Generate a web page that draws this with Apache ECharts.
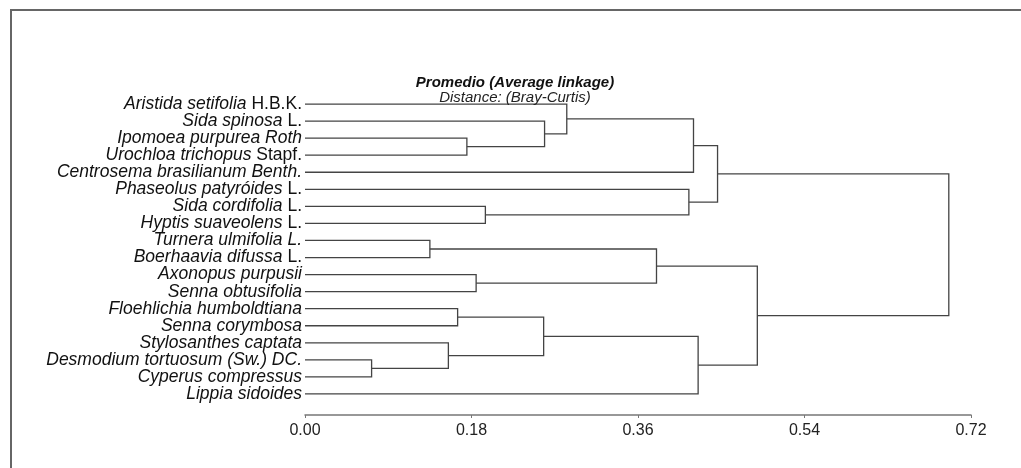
<!DOCTYPE html>
<html>
<head>
<meta charset="utf-8">
<script src="https://cdn.jsdelivr.net/npm/echarts@6/dist/echarts.min.js"></script>
<style>
  html, body { margin: 0; padding: 0; background: #fff; }
  #chart { width: 1021px; height: 468px; }
</style>
</head>
<body>
<div id="chart"></div>
<script>
// species (italic part) and author (upright part)
var leafNames = [
  'Aristida setifolia', 'Sida spinosa', 'Ipomoea purpurea Roth', 'Urochloa trichopus',
  'Centrosema brasilianum Benth.', 'Phaseolus patyróides', 'Sida cordifolia', 'Hyptis suaveolens',
  'Turnera ulmifolia L.', 'Boerhaavia difussa', 'Axonopus purpusii', 'Senna obtusifolia',
  'Floehlichia humboldtiana', 'Senna corymbosa', 'Stylosanthes captata',
  'Desmodium tortuosum (Sw.) DC.', 'Cyperus compressus', 'Lippia sidoides'
];
var leafAuthors = [
  'H.B.K.', 'L.', '', 'Stapf.', '', 'L.', 'L.', 'L.',
  '', 'L.', '', '', '', '', '', '', '', ''
];

// merges: [left node, right node, distance]; leaves are 0..17, clusters 18..
var merges = [
  [2, 3, 0.175],
  [1, 18, 0.259],
  [0, 19, 0.283],
  [20, 4, 0.420],
  [6, 7, 0.195],
  [5, 22, 0.415],
  [21, 23, 0.446],
  [8, 9, 0.135],
  [10, 11, 0.185],
  [25, 26, 0.380],
  [12, 13, 0.165],
  [15, 16, 0.072],
  [14, 29, 0.155],
  [28, 30, 0.258],
  [31, 17, 0.425],
  [27, 32, 0.489],
  [24, 33, 0.696]
];

var xTicks = [0, 0.18, 0.36, 0.54, 0.72];

// node positions: x = height, y = row (mean of children)
var nodeH = [], nodeY = [];
leafNames.forEach(function (n, i) { nodeH[i] = 0; nodeY[i] = i; });
var links = [];
merges.forEach(function (m, k) {
  var id = leafNames.length + k;
  var a = m[0], b = m[1], h = m[2];
  nodeH[id] = h;
  nodeY[id] = (nodeY[a] + nodeY[b]) / 2;
  links.push([nodeH[a], nodeY[a], h, nodeY[b], nodeH[b]]);
});

var chart = echarts.init(document.getElementById('chart'));
chart.setOption({
  backgroundColor: '#fff',
  animation: false,
  title: {
    text: 'Promedio (Average linkage)',
    subtext: 'Distance: (Bray-Curtis)',
    left: 510,
    textAlign: 'center',
    top: 70,
    itemGap: 0,
    textStyle: { fontFamily: 'Liberation Sans', fontSize: 15, fontWeight: 'bold', fontStyle: 'italic', color: '#111' },
    subtextStyle: { fontFamily: 'Liberation Sans', fontSize: 15, fontStyle: 'italic', color: '#222' }
  },
  graphic: [{
    type: 'rect',
    shape: { x: 11, y: 10, width: 1100, height: 600 },
    style: { fill: 'none', stroke: '#666', lineWidth: 2 },
    silent: true
  }],
  grid: { left: 305, right: 50, top: 95.5, height: 307 },
  xAxis: {
    type: 'value',
    min: 0,
    max: xTicks[xTicks.length - 1],
    interval: xTicks[1],
    offset: 12.5,
    splitLine: { show: false },
    axisLine: { show: true, onZero: false, lineStyle: { color: '#777', width: 1.5 } },
    axisTick: { show: true, length: 3, lineStyle: { color: '#777' } },
    axisLabel: {
      margin: 8,
      fontFamily: 'Liberation Sans', fontSize: 16, color: '#222',
      formatter: function (v) { return v.toFixed(2); }
    }
  },
  yAxis: [{
    type: 'category',
    inverse: true,
    data: leafNames.map(function (n, i) { return i; }),
    axisLine: { show: false },
    axisTick: { show: false },
    axisLabel: {
      interval: 0,
      margin: 3,
      formatter: function (v) {
        var i = +v;
        return '{i|' + leafNames[i] + '}' + (leafAuthors[i] ? '{n| ' + leafAuthors[i] + '}' : '');
      },
      rich: {
        i: { fontFamily: 'Liberation Sans', fontSize: 17.5, fontStyle: 'italic', color: '#111' },
        n: { fontFamily: 'Liberation Sans', fontSize: 17.5, color: '#111' }
      }
    }
  }, {
    type: 'value',
    inverse: true,
    min: -0.5,
    max: leafNames.length - 0.5,
    show: false
  }],
  series: [{
    type: 'custom',
    yAxisIndex: 1,
    data: links,
    encode: { x: [0, 2, 4], y: [1, 3] },
    renderItem: function (params, api) {
      var p1 = api.coord([api.value(0), api.value(1)]);
      var p2 = api.coord([api.value(2), api.value(1)]);
      var p3 = api.coord([api.value(2), api.value(3)]);
      var p4 = api.coord([api.value(4), api.value(3)]);
      return {
        type: 'polyline',
        shape: { points: [p1, p2, p3, p4] },
        style: { fill: 'none', stroke: '#444', lineWidth: 1.3 }
      };
    }
  }]
});
</script>
</body>
</html>
